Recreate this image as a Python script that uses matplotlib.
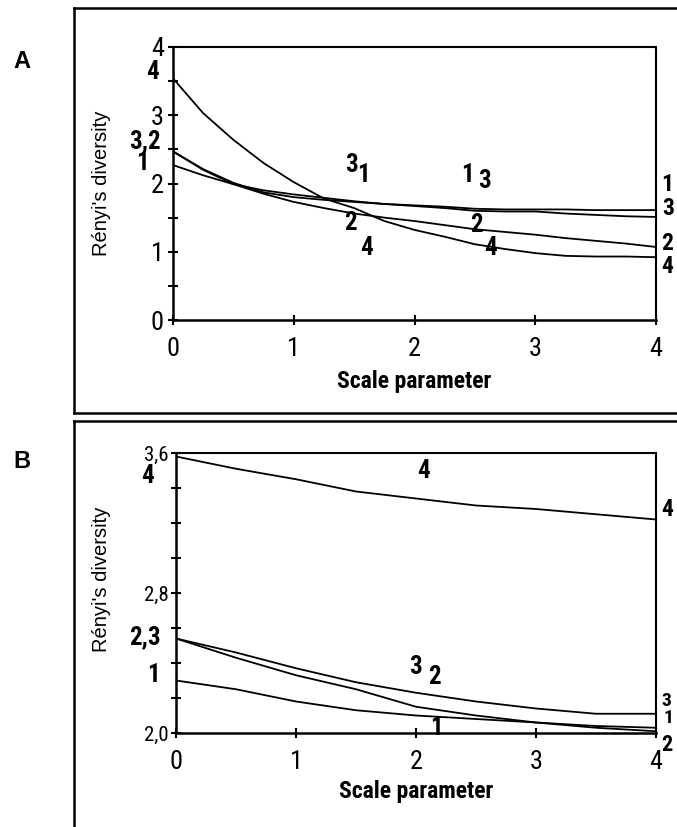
import numpy as np
import matplotlib
matplotlib.use("Agg")
import matplotlib.pyplot as plt
from matplotlib import font_manager as fm
from matplotlib.lines import Line2D
from matplotlib.ticker import MultipleLocator, FixedLocator, FixedFormatter

# ---- panel A: Renyi diversity vs scale parameter
xa = [0, 0.25, 0.5, 0.75, 1.0, 1.25, 1.5, 1.75, 2.0, 2.25, 2.5, 2.75, 3.0, 3.25, 3.5, 3.75, 4.0]
a1 = [2.27, 2.12, 1.99, 1.90, 1.84, 1.79, 1.74, 1.70, 1.68, 1.66, 1.63, 1.62, 1.62, 1.62, 1.61, 1.61, 1.61]
a2 = [2.47, 2.20, 1.99, 1.85, 1.73, 1.64, 1.56, 1.50, 1.45, 1.39, 1.33, 1.29, 1.25, 1.20, 1.16, 1.12, 1.07]
a3 = [2.47, 2.21, 2.01, 1.87, 1.80, 1.76, 1.73, 1.70, 1.67, 1.64, 1.60, 1.59, 1.59, 1.56, 1.54, 1.52, 1.51]
a4 = [3.54, 3.03, 2.64, 2.30, 2.02, 1.78, 1.64, 1.45, 1.32, 1.22, 1.11, 1.04, 0.98, 0.94, 0.93, 0.93, 0.92]

# ---- panel B
xb = [0, 0.5, 1.0, 1.5, 2.0, 2.5, 3.0, 3.5, 4.0]
b1 = [2.30, 2.25, 2.18, 2.13, 2.10, 2.08, 2.06, 2.04, 2.03]
b2 = [2.54, 2.43, 2.33, 2.25, 2.15, 2.10, 2.06, 2.03, 2.01]
b3 = [2.54, 2.46, 2.37, 2.29, 2.23, 2.18, 2.14, 2.11, 2.11]
b4 = [3.58, 3.51, 3.45, 3.38, 3.34, 3.30, 3.28, 3.25, 3.22]

b_yticks = [2.0, 2.8, 3.6]
b_yticklabels = ["2,0", "2,8", "3,6"]

# curve labels (text, x, y, size) in data coords
a_labels = [("4", -0.17, 3.63, 18), ("3,2", -0.23, 2.62, 18), ("1", -0.25, 2.30, 18),
            ("3", 1.48, 2.27, 18), ("1", 1.58, 2.12, 18), ("1", 2.44, 2.12, 18),
            ("3", 2.58, 2.03, 18), ("2", 1.47, 1.42, 18), ("4", 1.60, 1.05, 18),
            ("2", 2.51, 1.39, 18), ("4", 2.63, 1.05, 18),
            ("1", 4.09, 1.98, 17), ("3", 4.10, 1.64, 17), ("2", 4.09, 1.12, 17),
            ("4", 4.09, 0.79, 17)]
b_labels = [("4", -0.24, 3.47, 18), ("2,3", -0.26, 2.55, 18), ("1", -0.19, 2.33, 18),
            ("4", 2.06, 3.50, 18), ("3", 2.00, 2.38, 18), ("2", 2.15, 2.32, 18),
            ("1", 2.17, 2.03, 18), ("4", 4.09, 3.28, 17),
            ("3", 4.09, 2.185, 14), ("1", 4.10, 2.085, 14), ("2", 4.09, 1.93, 16)]

# pick a condensed face if one is installed, else an Arial-like one
names = {f.name for f in fm.fontManager.ttflist}
cond_dejavu = any(f.name == "DejaVu Sans" and "ondensed" in f.stretch
                  for f in fm.fontManager.ttflist)
NSTRETCH = "normal"
if "Liberation Sans Narrow" in names:
    NARROW = ["Liberation Sans Narrow", "DejaVu Sans"]; k = 1.0
elif "Roboto Condensed" in names:
    NARROW = ["Roboto Condensed", "DejaVu Sans"]; k = 1.0
elif cond_dejavu:
    NARROW = ["DejaVu Sans"]; NSTRETCH = "condensed"; k = 0.9
else:
    NARROW = ["Liberation Sans", "DejaVu Sans"]; k = 0.85
REG = ["Liberation Sans", "DejaVu Sans"]

fig = plt.figure(figsize=(6.77, 8.27), dpi=100)
W, H = 677, 827


def fx(px):
    return px / W


def fy(py):
    return 1 - py / H


# outer frames
frame = dict(color="k", lw=1.8, transform=fig.transFigure)
for xs, ys in [([74, 680], [7.5, 7.5]), ([74, 74], [7.5, 413]), ([74, 680], [413, 413]),
               ([74, 680], [421, 421]), ([74, 74], [421, 830])]:
    fig.add_artist(Line2D([fx(x) for x in xs], [fy(y) for y in ys], **frame))

fig.text(fx(22), fy(61), "A", fontsize=17, fontweight="bold", family=REG,
         ha="center", va="center")
fig.text(fx(22), fy(462), "B", fontsize=17, fontweight="bold", family=REG,
         ha="center", va="center")

axA = fig.add_axes([fx(173), fy(320), fx(656 - 173), (320 - 47) / H])
axB = fig.add_axes([fx(176), fy(733), fx(656 - 176), (733 - 453) / H])


def style(ax, ylab_y):
    for s in ["left", "bottom"]:
        ax.spines[s].set_linewidth(1.8)
    for s in ["top", "right"]:
        ax.spines[s].set_linestyle((0, (1, 1)))
        ax.spines[s].set_linewidth(1.5)
    ax.tick_params(which="both", direction="inout", width=1.5, length=7,
                   top=False, right=False)
    ax.xaxis.set_major_locator(MultipleLocator(1))
    ax.set_xlim(0, 4)
    ax.set_xlabel("Scale parameter", fontsize=17 * k, fontweight="bold",
                  family=NARROW, fontstretch=NSTRETCH, labelpad=6)
    ax.set_ylabel("R\u00e9nyi's diversity", fontsize=14.5, family=REG)
    ax.yaxis.set_label_coords(-(ax.get_position().x0 * W - 111) /
                              (ax.get_position().width * W), ylab_y)
    for t in ax.get_xticklabels():
        t.set_family(NARROW)
        t.set_fontstretch(NSTRETCH)
        t.set_fontsize(19 * k)
    ax.tick_params(axis="x", pad=9)


for x, y in [(xa, a1), (xa, a2), (xa, a3), (xa, a4)]:
    axA.plot(x, y, color="k", lw=1.3)
axA.set_ylim(0, 4)
axA.yaxis.set_major_locator(MultipleLocator(1))
axA.yaxis.set_minor_locator(MultipleLocator(0.5))
style(axA, 0.5)
for t in axA.get_yticklabels():
    t.set_family(NARROW)
    t.set_fontstretch(NSTRETCH)
    t.set_fontsize(19 * k)
axA.tick_params(axis="y", pad=3)

for x, y in [(xb, b1), (xb, b2), (xb, b3), (xb, b4)]:
    axB.plot(x, y, color="k", lw=1.3)
axB.set_ylim(2.0, 3.6)
axB.yaxis.set_major_locator(FixedLocator(b_yticks))
axB.yaxis.set_major_formatter(FixedFormatter(b_yticklabels))
axB.yaxis.set_minor_locator(MultipleLocator(0.2))
style(axB, 0.55)
axB.xaxis.labelpad = 4
for t in axB.get_yticklabels():
    t.set_family(NARROW)
    t.set_fontstretch(NSTRETCH)
    t.set_fontsize(15 * k)
axB.tick_params(axis="y", pad=2)

for ax, labs in [(axA, a_labels), (axB, b_labels)]:
    for s, x, y, fs in labs:
        ax.text(x, y, s, fontsize=fs * k, fontweight="bold", family=NARROW,
                fontstretch=NSTRETCH, ha="center", va="center", clip_on=False)

fig.savefig("out.png", dpi=100)
